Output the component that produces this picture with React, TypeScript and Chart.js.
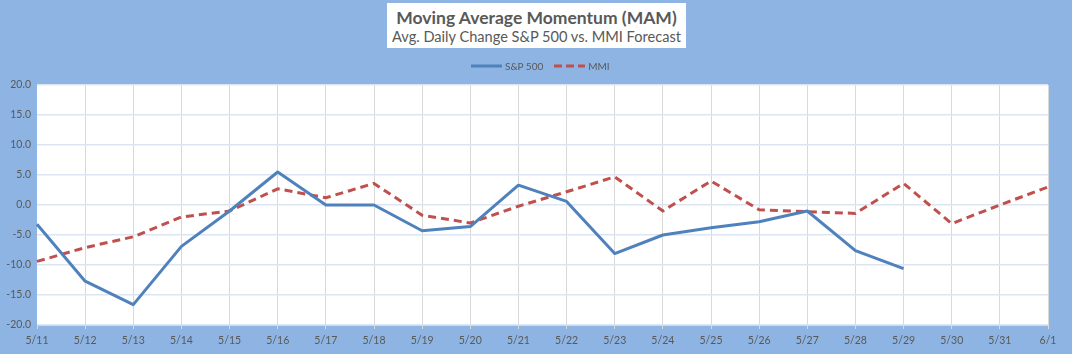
import React, { useEffect, useRef } from "react";
import { Chart, registerables } from "chart.js";

Chart.register(...registerables);

const labels = ["5/11","5/12","5/13","5/14","5/15","5/16","5/17","5/18","5/19","5/20","5/21","5/22","5/23","5/24","5/25","5/26","5/27","5/28","5/29","5/30","5/31","6/1"];
const sp500 = [-3.2, -12.7, -16.6, -6.9, -1.0, 5.5, 0.0, 0.0, -4.3, -3.6, 3.3, 0.6, -8.1, -5.0, -3.8, -2.8, -1.0, -7.6, -10.6, null, null, null];
const mmi = [-9.4, -7.1, -5.3, -2.0, -1.0, 2.7, 1.2, 3.6, -1.7, -3.0, -0.2, 2.2, 4.7, -1.0, 4.0, -0.8, -1.1, -1.4, 3.6, -3.1, 0.0, 3.0];

const TITLE = "Moving Average Momentum (MAM)";
const SUBTITLE = "Avg. Daily Change S&P 500 vs. MMI Forecast";
const BLUE = "#4F81BD";
const RED = "#C0504D";
const TEXT = "#595959";
const FONT = "Lato, 'Open Sans', sans-serif";

const plotBg = {
  id: "plotBg",
  beforeDraw(chart: any) {
    const { ctx, chartArea } = chart;
    ctx.save();
    ctx.fillStyle = "#FFFFFF";
    ctx.fillRect(chartArea.left, chartArea.top, chartArea.right - chartArea.left, chartArea.bottom - chartArea.top);
    ctx.restore();
  },
};

export default function App() {
  const ref = useRef<HTMLCanvasElement | null>(null);
  useEffect(() => {
    document.body.style.margin = "0";
    const canvas = ref.current!;
    const chart = new Chart(canvas, {
      type: "line",
      data: {
        labels,
        datasets: [
          {
            label: "S&P 500",
            data: sp500,
            borderColor: BLUE,
            backgroundColor: BLUE,
            borderWidth: 3,
            pointRadius: 0,
            tension: 0,
            spanGaps: false,
            borderJoinStyle: "round",
          },
          {
            label: "MMI",
            data: mmi,
            borderColor: RED,
            backgroundColor: RED,
            borderWidth: 3,
            borderDash: [8, 5],
            pointRadius: 0,
            tension: 0,
            borderJoinStyle: "round",
          },
        ],
      },
      options: {
        responsive: false,
        animation: false,
        devicePixelRatio: 1,
        layout: { padding: { top: 85, right: 24, bottom: 0, left: 0 } },
        plugins: { legend: { display: false }, title: { display: false }, tooltip: { enabled: false } },
        scales: {
          x: {
            offset: false,
            grid: {
              offset: false,
              color: (ctx: any) => (ctx.index === 0 ? "rgba(0,0,0,0)" : "#D9D9D9"),
              tickColor: "#D9D9D9",
              tickLength: 4,
              lineWidth: 1,
            },
            border: { display: true, color: "#D9D9D9", width: 1 },
            ticks: {
              color: TEXT,
              font: { family: FONT, size: 10.5 },
              maxRotation: 0,
              autoSkip: false,
              padding: 5,
            },
            afterFit: (s: any) => { s.height = 29; },
          },
          y: {
            min: -20,
            max: 20,
            grid: { color: "#DCE6F2", lineWidth: 1.5, drawTicks: false },
            border: { display: false },
            ticks: {
              stepSize: 5,
              color: TEXT,
              font: { family: FONT, size: 10.5 },
              padding: 6,
              callback: (v: any) => Number(v).toFixed(1),
            },
            afterFit: (s: any) => { s.width = 37; },
          },
        },
      },
      plugins: [plotBg],
    });
    return () => chart.destroy();
  }, []);

  return (
    <div style={{ position: "relative", width: 1072, height: 354, background: "#8DB4E2", overflow: "hidden" }}>
      <canvas ref={ref} width={1072} height={354} style={{ position: "absolute", left: 0, top: 0, width: 1072, height: 354 }} />
      <div
        style={{
          position: "absolute",
          left: 387,
          top: 3,
          width: 299,
          height: 45,
          background: "#FFFFFF",
          color: TEXT,
          fontFamily: FONT,
          textAlign: "center",
          whiteSpace: "nowrap",
        }}
      >
        <div style={{ fontWeight: 700, fontSize: 17.5, lineHeight: "20px", marginTop: 5 }}>{TITLE}</div>
        <div style={{ fontSize: 14.6, lineHeight: "18px" }}>{SUBTITLE}</div>
      </div>
      <div
        style={{
          position: "absolute",
          left: 471,
          top: 59,
          height: 14,
          display: "flex",
          alignItems: "center",
          fontFamily: FONT,
          fontSize: 10,
          color: TEXT,
        }}
      >
        <svg width={31} height={6} style={{ marginRight: 3 }}>
          <line x1={0} y1={3} x2={31} y2={3} stroke={BLUE} strokeWidth={3} />
        </svg>
        <span>S&amp;P 500</span>
        <svg width={31} height={6} style={{ marginLeft: 11, marginRight: 3 }}>
          <line x1={0} y1={3} x2={31} y2={3} stroke={RED} strokeWidth={3} strokeDasharray="8 4" />
        </svg>
        <span>MMI</span>
      </div>
    </div>
  );
}
